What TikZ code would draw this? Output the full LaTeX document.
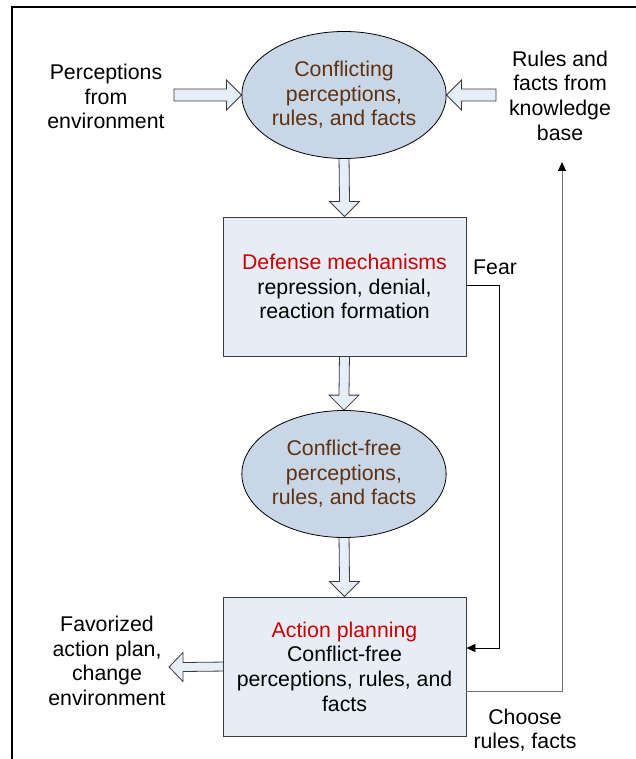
\documentclass[tikz,border=0pt]{standalone}
\usepackage{fontspec}
\setmainfont{Liberation Sans}
\usetikzlibrary{shapes.geometric,arrows.meta,calc}
\pgfdeclarelayer{bg}
\pgfsetlayers{bg,main}
\definecolor{ellfill}{RGB}{200,214,230}
\definecolor{boxfill}{RGB}{230,237,247}
\definecolor{arrfill}{RGB}{230,238,248}
\definecolor{brownt}{RGB}{94,50,18}
\definecolor{redt}{RGB}{204,0,0}
\definecolor{edgec}{RGB}{60,60,60}
\definecolor{grayline}{RGB}{110,110,110}
\begin{document}
\begin{tikzpicture}[x=1pt,y=-1pt,
 every node/.style={font=\fontsize{21.3}{24.6}\selectfont, inner sep=0pt},
 ell/.style={ellipse, draw=black, line width=0.8pt, fill=ellfill, text=brownt, align=center, minimum width=194pt, minimum height=127pt},
 boxn/.style={rectangle, draw=edgec, line width=0.9pt, fill=boxfill, align=center, minimum width=243pt, minimum height=139pt},
 lbl/.style={align=center},
 barrow/.style={draw=edgec, line width=0.8pt, fill=arrfill, line join=miter},
 conn/.style={line width=0.8pt, -{Triangle[length=9pt,width=8pt,color=black]}}
]
\useasboundingbox (0,0) rectangle (636,759);
\draw[line width=1.6pt] (12,759) -- (12,7) -- (636,7);

\node[ell] (c1) at (344,95) {Conflicting\\perceptions,\\rules, and facts};
\node[boxn] (d) at (344.5,286.5) {\textcolor{redt}{Defense mechanisms}\\repression, denial,\\reaction formation};
\node[ell] (c2) at (344,474) {Conflict-free\\perceptions,\\rules, and facts};
\node[boxn] (a) at (344.5,666.5) {\textcolor{redt}{Action planning}\\Conflict-free\\perceptions, rules, and\\facts};

\node[lbl] (pe) at (106,96.5) {Perceptions\\from\\environment};
\node[lbl] (kb) at (560,95.5) {Rules and\\facts from\\knowledge\\base};
\node[lbl] (fav) at (107,661) {Favorized\\action plan,\\change\\environment};
\node[lbl] (ch) at (525,730) {Choose\\rules, facts};
\node[anchor=west] (fear) at (473,267) {Fear};

\coordinate (pes) at (174,95);
\coordinate (kbs) at (496,95);
\coordinate (favtip) at (169,667);
\coordinate (kbtip) at (562,162);

\begin{pgfonlayer}{bg}
% vertical block arrows
\path[barrow] ($(c1.south)+(-5,-4)$) -- ($(d.north)+(-5,-15)$) -- ++(-10,0) -- (d.north) -- ++(15,-15) -- ++(-10,0) -- ($(c1.south)+(5,-4)$) -- cycle;
\path[barrow] ($(d.south)+(-5,-4)$) -- ($(c2.north)+(-5,-15)$) -- ++(-10,0) -- (c2.north) -- ++(15,-15) -- ++(-10,0) -- ($(d.south)+(5,-4)$) -- cycle;
\path[barrow] ($(c2.south)+(-5,-4)$) -- ($(a.north)+(-5,-15)$) -- ++(-10,0) -- (a.north) -- ++(15,-15) -- ++(-10,0) -- ($(c2.south)+(5,-4)$) -- cycle;
% horizontal block arrows
\path[barrow] ($(pes)+(0,-6)$) -- ($(c1.west)+(-15,-6)$) -- ($(c1.west)+(-15,-15)$) -- (c1.west) -- ($(c1.west)+(-15,15)$) -- ($(c1.west)+(-15,6)$) -- ($(pes)+(0,6)$) -- cycle;
\path[barrow] ($(kbs)+(0,-6)$) -- ($(c1.east)+(15,-6)$) -- ($(c1.east)+(15,-15)$) -- (c1.east) -- ($(c1.east)+(15,15)$) -- ($(c1.east)+(15,6)$) -- ($(kbs)+(0,6)$) -- cycle;
\path[barrow] ($(a.west)+(4,-4.5)$) -- ($(favtip)+(14,-4.5)$) -- ($(favtip)+(14,-14.5)$) -- (favtip) -- ($(favtip)+(14,14.5)$) -- ($(favtip)+(14,4.5)$) -- ($(a.west)+(4,4.5)$) -- cycle;
\end{pgfonlayer}

\draw[conn] ($(d.east)+(0,-1.5)$) -- ++(33,0) |- ($(a.east)+(0,-18.5)$);
\draw[conn, draw=grayline] ($(a.east)+(0,24.5)$) -| (kbtip);
\end{tikzpicture}
\end{document}
